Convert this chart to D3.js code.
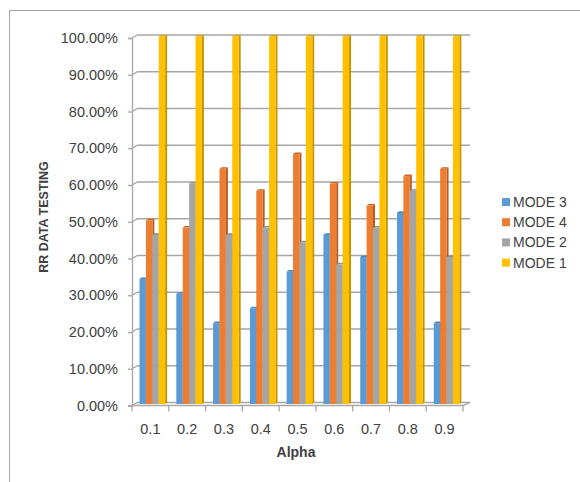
<!DOCTYPE html>
<html>
<head>
<meta charset="utf-8">
<script src="https://cdn.jsdelivr.net/npm/d3@7"></script>
<style>
  html, body { margin: 0; padding: 0; background: #fff; }
  svg { display: block; }
  text { font-family: "Liberation Sans", Arial, sans-serif; fill: #404040; }
</style>
</head>
<body>
<svg id="chart" width="580" height="482"></svg>
<script>
// Categories along the x axis (Alpha)
const categories = ["0.1", "0.2", "0.3", "0.4", "0.5", "0.6", "0.7", "0.8", "0.9"];

// Series names, in legend order
const seriesNames = ["MODE 3", "MODE 4", "MODE 2", "MODE 1"];

// RR values per series (fractions)
const mode3 = [0.34, 0.30, 0.22, 0.26, 0.36, 0.46, 0.40, 0.52, 0.22];
const mode4 = [0.50, 0.48, 0.64, 0.58, 0.68, 0.60, 0.54, 0.62, 0.64];
const mode2 = [0.46, 0.60, 0.46, 0.48, 0.44, 0.38, 0.48, 0.58, 0.40];
const mode1 = [1.00, 1.00, 1.00, 1.00, 1.00, 1.00, 1.00, 1.00, 1.00];

// Value-axis tick values
const yTicks = [0, 0.1, 0.2, 0.3, 0.4, 0.5, 0.6, 0.7, 0.8, 0.9, 1.0];

const seriesValues = { "MODE 3": mode3, "MODE 4": mode4, "MODE 2": mode2, "MODE 1": mode1 };
const colors = { "MODE 3": "#5B9BD5", "MODE 4": "#ED7D31", "MODE 2": "#A5A5A5", "MODE 1": "#FFC000" };
const sideColors = { "MODE 3": "#4679a8", "MODE 4": "#b85c1f", "MODE 2": "#828282", "MODE 1": "#c59400" };
const topColors = { "MODE 3": "#4d88bd", "MODE 4": "#c9641f", "MODE 2": "#8f8f8f", "MODE 1": "#d9a300" };

const svg = d3.select("#chart");

// Chart frame
svg.append("rect")
  .attr("x", 9.5).attr("y", 10.5)
  .attr("width", 620).attr("height", 520)
  .attr("fill", "#fff").attr("stroke", "#a6a6a6").attr("stroke-width", 1);

// 3D depth offsets for the back wall
const depthX = 5.5, depthY = -3;

// Front plane scales
const x = d3.scaleBand().domain(categories).range([132, 463]).padding(0);
const yFront = d3.scaleLinear().domain([0, 1]).range([405.5, 38]);
const yBar = d3.scaleLinear().domain([0, 1]).range([404, 36.5]);
const bw = x.bandwidth();
const xSub = d3.scaleBand().domain(seriesNames).range([bw * 0.205, bw * 0.205 + 25.6]).padding(0);

const gridColor = "#a6a6a6";

// Back-wall gridlines with slanted connectors to the front axis
const grid = svg.append("g");
yTicks.forEach(t => {
  const yf = yFront(t);
  const yb = yf + depthY;
  grid.append("path")
    .attr("d", `M${x.range()[0]},${yf}L${x.range()[0] + depthX},${yb}L${x.range()[1] + depthX + 1.5},${yb}`)
    .attr("fill", "none").attr("stroke", gridColor).attr("stroke-width", 1.3);
});

// Floor outline
svg.append("path")
  .attr("d", `M${x.range()[0]},${yFront(0)}L${x.range()[1]},${yFront(0)}L${x.range()[1] + depthX + 1.5},${yFront(0) + depthY}`)
  .attr("fill", "none").attr("stroke", gridColor).attr("stroke-width", 1.3);

// Bars drawn with a front face, a shaded right side and a top face
const dx = 2, dy = 1.6;
const barsG = svg.append("g");
categories.forEach((c, i) => {
  seriesNames.forEach(s => {
    const v = seriesValues[s][i];
    const x0 = x(c) + xSub(s);
    const w = xSub.bandwidth();
    const y0 = yBar(v);
    const yb = yBar(0);
    // side face
    barsG.append("path")
      .attr("d", `M${x0 + w},${y0}L${x0 + w + dx},${y0 - dy}L${x0 + w + dx},${yb - dy}L${x0 + w},${yb}Z`)
      .attr("fill", sideColors[s]);
    // top face
    barsG.append("path")
      .attr("d", `M${x0},${y0}L${x0 + dx},${y0 - dy}L${x0 + w + dx},${y0 - dy}L${x0 + w},${y0}Z`)
      .attr("fill", topColors[s]);
    // front face
    barsG.append("rect")
      .attr("x", x0).attr("y", y0)
      .attr("width", w).attr("height", yb - y0)
      .attr("fill", colors[s]);
  });
});

// Value axis (front)
const yAxis = d3.axisLeft(yFront).tickValues(yTicks).tickFormat(d3.format(".2%")).tickSize(4).tickPadding(10);
const yAxisG = svg.append("g").attr("transform", `translate(${x.range()[0]},0)`).call(yAxis);
yAxisG.select(".domain").attr("stroke", gridColor).attr("stroke-width", 1.3);
yAxisG.selectAll(".tick line").attr("stroke", gridColor).attr("stroke-width", 1.3);
yAxisG.selectAll(".tick text")
  .style("font-family", "'Liberation Sans', Arial, sans-serif")
  .style("font-size", "14.5px").attr("fill", "#404040");

// Category axis (front)
const xAxisG = svg.append("g").attr("transform", `translate(0,${yFront(0)})`);
const boundaries = categories.map(c => x(c)).concat([x.range()[1]]);
xAxisG.selectAll("line.cb").data(boundaries).join("line")
  .attr("class", "cb")
  .attr("x1", d => d).attr("x2", d => d)
  .attr("y1", 0).attr("y2", 6)
  .attr("stroke", gridColor).attr("stroke-width", 1.3);
xAxisG.selectAll("text.cl").data(categories).join("text")
  .attr("class", "cl")
  .attr("x", d => x(d) + bw / 2)
  .attr("y", 28)
  .attr("text-anchor", "middle")
  .style("font-size", "14.5px")
  .text(d => d);

// Axis titles
svg.append("text")
  .attr("x", 296).attr("y", 457)
  .attr("text-anchor", "middle")
  .style("font-size", "14px").style("font-weight", "bold")
  .attr("fill", "#000")
  .text("Alpha");

svg.append("text")
  .attr("transform", "translate(47.5,217) rotate(-90)")
  .attr("text-anchor", "middle")
  .style("font-size", "12.5px").style("font-weight", "bold")
  .attr("fill", "#000")
  .text("RR DATA TESTING");

// Legend
const legend = svg.append("g").attr("transform", "translate(502,202)");
seriesNames.forEach((s, i) => {
  const g = legend.append("g").attr("transform", `translate(0,${i * 20.2})`);
  g.append("rect").attr("x", 0).attr("y", -4).attr("width", 8).attr("height", 8).attr("fill", colors[s]);
  g.append("text").attr("x", 11).attr("y", 5)
    .style("font-size", "14px").text(s);
});
</script>
</body>
</html>
